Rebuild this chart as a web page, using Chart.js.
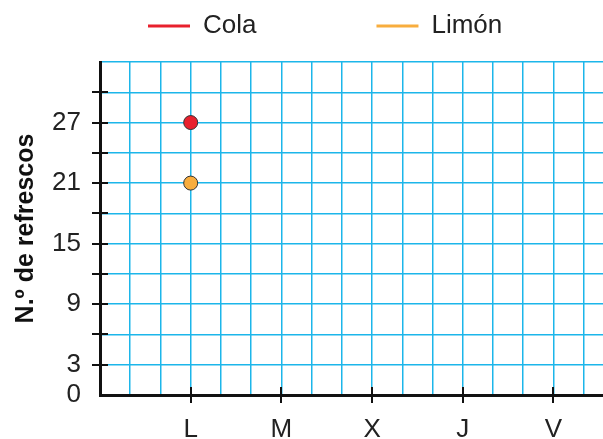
<!DOCTYPE html>
<html>
<head>
<meta charset="utf-8">
<script src="https://cdn.jsdelivr.net/npm/chart.js@4"></script>
<style>
  body { margin: 0; background: #fff; overflow: hidden; }
  #wrap { width: 603px; height: 439px; }
</style>
</head>
<body>
<div id="wrap"><canvas id="refrescos_canvas"></canvas></div>
<script>
// days of the week, placed every 3 grid columns
const day_labels = ["L", "M", "X", "J", "V"];
const day_positions = [3, 6, 9, 12, 15];

const cola_values = [27, null, null, null, null];
const limon_values = [21, null, null, null, null];

const y_labelled = [0, 3, 9, 15, 21, 27];

const grid_color = "#1cb6ea";
const legend_gap = 120;

function to_points(values) {
    let points = [];
    for (let i = 0; i < values.length; i++) {
        if (values[i] === null) {continue;}
        points.push({x: day_positions[i], y: values[i]});
    }
    return points;
}

// tick marks crossing both axes
const cross_ticks = {
    id: "cross_ticks",
    beforeDatasetsDraw(chart) {
        const ctx = chart.ctx;
        const x_scale = chart.scales.x;
        const y_scale = chart.scales.y;
        ctx.save();
        ctx.strokeStyle = "#111";
        ctx.lineWidth = 2;
        ctx.beginPath();
        for (const pos of day_positions) {
            const px = Math.round(x_scale.getPixelForValue(pos));
            ctx.moveTo(px, y_scale.bottom - 8);
            ctx.lineTo(px, y_scale.bottom + 8);
        }
        for (let v = 3; v <= 30; v += 3) {
            const py = Math.round(y_scale.getPixelForValue(v));
            ctx.moveTo(x_scale.left - 8, py);
            ctx.lineTo(x_scale.left + 8, py);
        }
        ctx.stroke();
        ctx.restore();
    }
};

// legend: wide gap between items but a short box above the plot
const legend_place = {
    id: "legend_place",
    beforeInit(chart) {
        const legend = chart.legend;
        const original_fit = legend.fit;
        legend.fit = function () {
            original_fit.call(legend);
            legend.height = 60;
        };
    },
    afterLayout(chart) {
        const legend = chart.legend;
        legend.top = 13 - legend_gap;
        legend.left = 148 - legend_gap;
        legend.right = 900;
    }
};

let config = {
    type: "scatter",
    data: {
        datasets: [
            {
                label: "Cola",
                data: to_points(cola_values),
                borderColor: "#e8202d",
                backgroundColor: "#e8202d",
                pointBackgroundColor: "#e8202d",
                pointBorderColor: "#333",
                pointBorderWidth: 1,
                pointRadius: 7
            },
            {
                label: "Limón",
                data: to_points(limon_values),
                borderColor: "#f8ad3e",
                backgroundColor: "#f8ad3e",
                pointBackgroundColor: "#f8ad3e",
                pointBorderColor: "#333",
                pointBorderWidth: 1,
                pointRadius: 7
            }
        ]
    },
    options: {
        responsive: true,
        maintainAspectRatio: false,
        animation: false,
        layout: {autoPadding: false, padding: {top: 2, right: 0, left: 0, bottom: 0}},
        plugins: {
            tooltip: {enabled: false},
            legend: {
                display: true,
                position: "top",
                align: "start",
                labels: {
                    usePointStyle: true,
                    pointStyle: "line",
                    pointStyleWidth: 42,
                    padding: legend_gap,
                    color: "#222",
                    font: {family: "Liberation Sans", size: 26},
                    generateLabels: function (chart) {
                        const items = Chart.defaults.plugins.legend.labels.generateLabels(chart);
                        for (const item of items) {
                            item.strokeStyle = chart.data.datasets[item.datasetIndex].borderColor;
                            item.lineWidth = 3;
                        }
                        return items;
                    }
                }
            }
        },
        scales: {
            x: {
                type: "linear",
                min: 0,
                max: 16.64,
                afterFit: function (scale) {
                    scale.height = 44;
                    scale.paddingLeft = 0;
                    scale.paddingRight = 0;
                },
                border: {color: "#111", width: 3},
                grid: {
                    color: grid_color,
                    lineWidth: 1.5,
                    tickLength: 8,
                    tickColor: "transparent"
                },
                ticks: {
                    stepSize: 1,
                    includeBounds: false,
                    autoSkip: false,
                    maxRotation: 0,
                    padding: 11,
                    color: "#222",
                    font: {family: "Liberation Sans", size: 26},
                    callback: function (value) {
                        const idx = day_positions.indexOf(value);
                        return idx >= 0 ? day_labels[idx] : "";
                    }
                }
            },
            y: {
                min: 0,
                max: 33,
                afterFit: function (scale) { scale.width = 100; },
                border: {color: "#111", width: 3},
                grid: {
                    color: grid_color,
                    lineWidth: 1.5,
                    tickLength: 8,
                    tickColor: "transparent"
                },
                title: {
                    display: true,
                    text: "N.º de refrescos",
                    color: "#111",
                    padding: {top: 11, bottom: 0},
                    font: {family: "Liberation Sans", size: 25, weight: "bold"}
                },
                ticks: {
                    stepSize: 3,
                    autoSkip: false,
                    padding: 11,
                    color: "#222",
                    font: {family: "Liberation Sans", size: 26},
                    callback: function (value) {
                        return y_labelled.includes(value) ? value : "";
                    }
                }
            }
        }
    },
    plugins: [cross_ticks, legend_place]
};

const refrescos_chart = new Chart(
    document.getElementById("refrescos_canvas"),
    config
);
</script>
</body>
</html>
